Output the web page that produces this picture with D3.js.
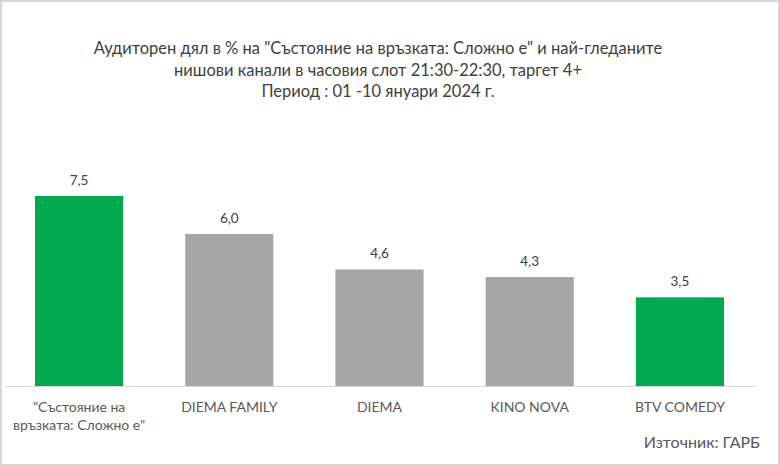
<!DOCTYPE html>
<meta charset="utf-8">
<head>
    <script src="https://d3js.org/d3.v7.min.js"></script>
    <style>
        body { margin: 0; background: #fff; }
        text { font-family: Lato, "Open Sans", sans-serif; }
    </style>
</head>
<body>
    <svg id="chart"></svg>

    <script>
        // chart data
        var categories = ['"Състояние на|връзката: Сложно е"', 'DIEMA FAMILY', 'DIEMA', 'KINO NOVA', 'BTV COMEDY'];
        var shares = [7.5, 6.0, 4.6, 4.3, 3.5];
        var barColors = ['#00a84f', '#a6a6a6', '#a6a6a6', '#a6a6a6', '#00a84f'];
        var titleLines = [
            'Аудиторен дял в % на "Състояние на връзката: Сложно е" и най-гледаните',
            'нишови канали в часовия слот 21:30-22:30, таргет 4+',
            'Период : 01 -10 януари 2024 г.'
        ];
        var sourceText = 'Източник: ГАРБ';

        var width = 780, height = 466;
        var svg = d3.select('#chart').attr('width', width).attr('height', height);

        // frame
        svg.append('rect')
            .attr('x', 1).attr('y', 1)
            .attr('width', width - 2).attr('height', height - 2)
            .attr('fill', '#fff')
            .attr('stroke', '#d6d6d6').attr('stroke-width', 2);

        var x = d3.scaleBand()
            .domain(categories)
            .range([4, 755])
            .paddingInner(0.413)
            .paddingOuter(0.2065);

        var y = d3.scaleLinear()
            .domain([0, 7.5])
            .range([386, 196]);

        // title
        svg.append('g').selectAll('text')
            .data(titleLines)
            .enter().append('text')
            .attr('x', 378)
            .attr('y', function(d, i){ return 54 + i * 21.5; })
            .attr('text-anchor', 'middle')
            .attr('fill', '#404040')
            .style('font-size', '16.5px')
            .text(function(d){ return d; });

        // bars
        svg.append('g').selectAll('rect')
            .data(shares)
            .enter().append('rect')
            .attr('x', function(d, i){ return x(categories[i]); })
            .attr('y', function(d){ return y(d); })
            .attr('width', x.bandwidth())
            .attr('height', function(d){ return y(0) - y(d); })
            .attr('fill', function(d, i){ return barColors[i]; });

        // value labels
        svg.append('g').selectAll('text')
            .data(shares)
            .enter().append('text')
            .attr('x', function(d, i){ return x(categories[i]) + x.bandwidth() / 2; })
            .attr('y', function(d){ return y(d) - 11; })
            .attr('text-anchor', 'middle')
            .attr('fill', '#404040')
            .style('font-size', '13.5px')
            .text(function(d){ return d.toFixed(1).replace('.', ','); });

        // x axis
        var axis = svg.append('g')
            .attr('transform', 'translate(0,' + y(0) + ')')
            .call(d3.axisBottom(x).tickSize(0).tickFormat(''));
        axis.select('.domain').attr('stroke', '#d9d9d9').attr('stroke-width', 1.2);

        axis.selectAll('.tick').each(function(d){
            var t = d3.select(this).append('text')
                .attr('text-anchor', 'middle')
                .attr('fill', '#595959')
                .style('font-size', '14px');
            d.split('|').forEach(function(line, i){
                t.append('tspan').attr('x', 0).attr('y', 26 + i * 18).text(line);
            });
        });

        // source
        svg.append('text')
            .attr('x', 760).attr('y', 448)
            .attr('text-anchor', 'end')
            .attr('fill', '#595959')
            .style('font-size', '16px')
            .text(sourceText);
    </script>
</body>
